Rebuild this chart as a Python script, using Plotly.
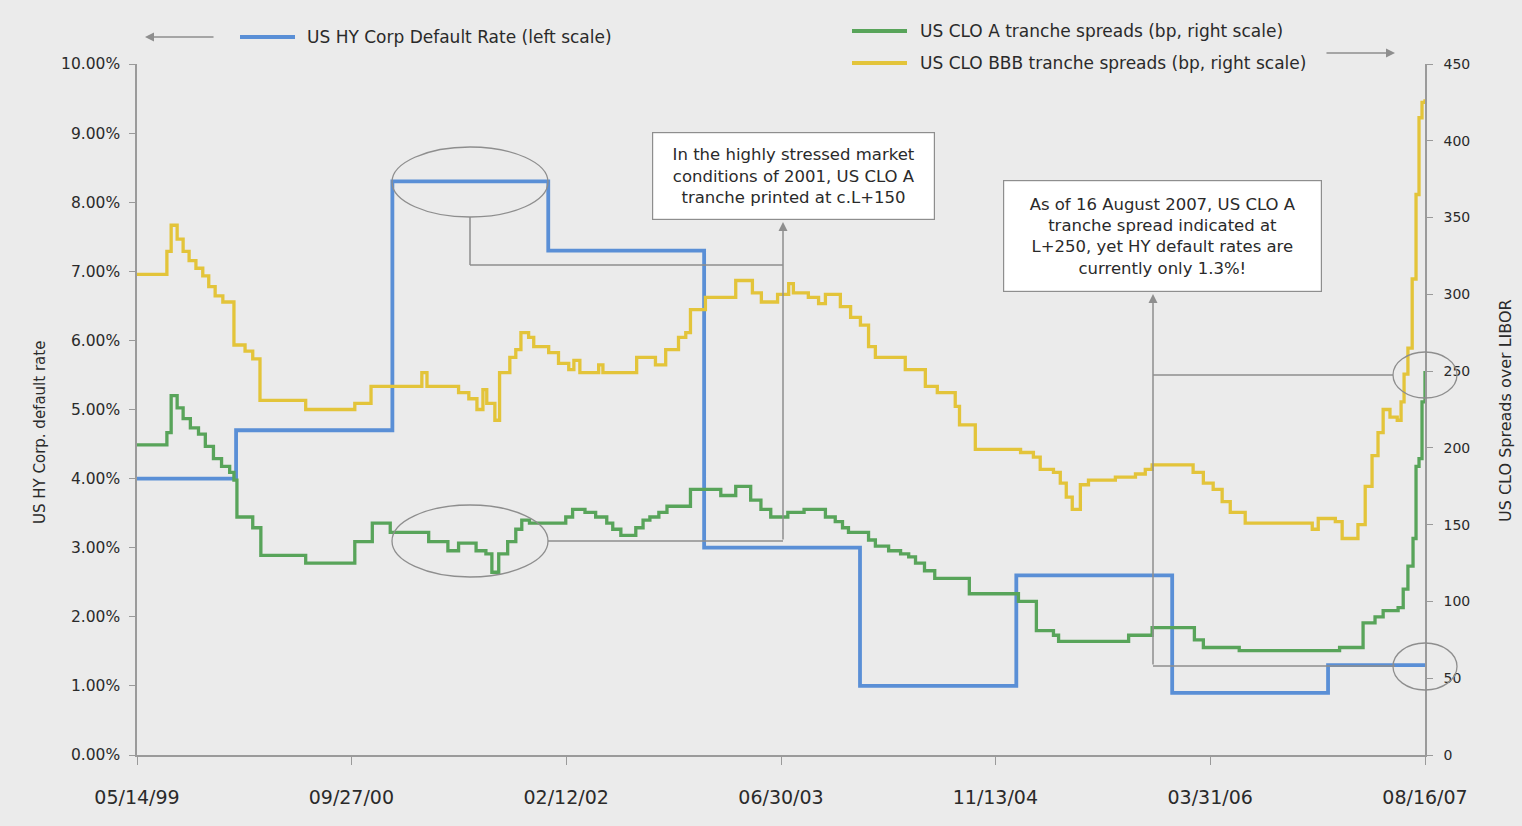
import plotly.graph_objects as go

# ---------------- data ----------------
hy_dates = ["1999-05-14", "2000-01-01", "2001-01-01", "2002-01-01", "2003-01-01",
            "2004-01-01", "2005-01-01", "2006-01-01", "2007-01-01", "2007-08-16"]
hy_rate = [4.0, 4.7, 8.3, 7.3, 3.0, 1.0, 2.6, 0.9, 1.3, 1.3]

bbb_dates = [
    "1999-05-14", "1999-07-23", "1999-08-02", "1999-08-16", "1999-08-30", "1999-09-13",
    "1999-09-29", "1999-10-15", "1999-10-29", "1999-11-13", "1999-12-01", "1999-12-27",
    "2000-01-22", "2000-02-09", "2000-02-26", "2000-06-12", "2000-10-05", "2000-11-12",
    "2001-03-11", "2001-03-23", "2001-06-05", "2001-06-29", "2001-07-18", "2001-08-01",
    "2001-08-10", "2001-08-29", "2001-09-09", "2001-10-03", "2001-10-17", "2001-10-29",
    "2001-11-16", "2001-11-28", "2002-01-02", "2002-01-25", "2002-02-18", "2002-03-02",
    "2002-03-16", "2002-04-29", "2002-05-09", "2002-07-27", "2002-09-09", "2002-10-03",
    "2002-11-02", "2002-11-19", "2002-11-30", "2003-01-04", "2003-03-16", "2003-04-24",
    "2003-05-15", "2003-06-22", "2003-07-18", "2003-07-29", "2003-09-02", "2003-09-26",
    "2003-10-12", "2003-11-16", "2003-12-10", "2004-01-02", "2004-01-21", "2004-02-06",
    "2004-04-16", "2004-06-02", "2004-06-30", "2004-08-11", "2004-08-21", "2004-09-27",
    "2005-01-11", "2005-02-10", "2005-02-26", "2005-03-29", "2005-04-14", "2005-04-28",
    "2005-05-12", "2005-05-31", "2005-06-19", "2005-08-21", "2005-10-07", "2005-10-30",
    "2005-11-15", "2006-02-19", "2006-03-15", "2006-04-07", "2006-04-28", "2006-05-17",
    "2006-06-21", "2006-11-25", "2006-12-09", "2007-01-18", "2007-02-03", "2007-03-12",
    "2007-03-29", "2007-04-14", "2007-04-28", "2007-05-10", "2007-05-26", "2007-06-12",
    "2007-06-21", "2007-06-28", "2007-07-07", "2007-07-17", "2007-07-26", "2007-08-02",
    "2007-08-09", "2007-08-16"]
bbb_bp = [
    313, 328, 345, 336, 328, 322,
    317, 312, 305, 299, 295, 267,
    263, 258, 231, 225, 229, 240,
    249, 240, 236, 232, 225, 238,
    229, 218, 249, 259, 264, 275,
    272, 266, 262, 255, 251, 257,
    249, 254, 249, 259, 254, 264,
    272, 275, 290, 298, 309, 301,
    295, 300, 307, 301, 298, 294,
    300, 292, 285, 280, 266, 259,
    251, 240, 236, 227, 215, 199,
    197, 194, 186, 184, 177, 168,
    160, 176, 179, 181, 183, 186,
    189, 184, 177, 173, 165, 158,
    151, 147, 154, 152, 141, 150,
    175, 195, 210, 225, 220, 218,
    230, 248, 265, 310, 365, 415,
    425, 427]

a_dates = [
    "1999-05-14", "1999-07-23", "1999-08-02", "1999-08-16", "1999-08-30", "1999-09-16",
    "1999-10-05", "1999-10-21", "1999-11-09", "1999-11-28", "1999-12-17", "1999-12-27",
    "2000-01-03", "2000-02-09", "2000-02-28", "2000-06-12", "2000-10-05", "2000-11-15",
    "2000-12-27", "2001-03-27", "2001-05-11", "2001-06-05", "2001-07-16", "2001-08-08",
    "2001-08-22", "2001-09-07", "2001-09-28", "2001-10-17", "2001-10-31", "2001-11-18",
    "2002-02-11", "2002-02-27", "2002-03-28", "2002-04-22", "2002-05-18", "2002-06-01",
    "2002-06-20", "2002-07-25", "2002-08-11", "2002-08-27", "2002-09-17", "2002-10-06",
    "2002-11-30", "2003-02-09", "2003-03-16", "2003-04-20", "2003-05-14", "2003-06-06",
    "2003-07-16", "2003-08-23", "2003-10-12", "2003-11-04", "2003-11-21", "2003-12-05",
    "2004-01-21", "2004-02-06", "2004-03-08", "2004-04-05", "2004-04-24", "2004-05-10",
    "2004-05-31", "2004-06-24", "2004-09-13", "2005-01-06", "2005-02-17", "2005-03-29",
    "2005-04-10", "2005-09-21", "2005-11-15", "2006-02-22", "2006-03-15", "2006-06-07",
    "2007-01-28", "2007-03-24", "2007-04-21", "2007-05-10", "2007-06-14", "2007-06-26",
    "2007-07-07", "2007-07-19", "2007-07-26", "2007-08-02", "2007-08-09", "2007-08-16"]
a_bp = [
    202, 210, 234, 226, 219, 213,
    209, 201, 193, 188, 184, 179,
    155, 148, 130, 125, 139, 151,
    145, 139, 133, 138, 133, 131,
    119, 131, 139, 147, 153, 151,
    155, 160, 158, 155, 151, 147,
    143, 148, 153, 155, 158, 162,
    173, 169, 175, 166, 160, 155,
    158, 160, 155, 152, 148, 145,
    140, 136, 133, 131, 129, 125,
    120, 115, 105, 100, 81, 78,
    74, 78, 83, 75, 70, 68,
    70, 86, 90, 94, 96, 108,
    123, 141, 188, 193, 230, 250]

tick_dates = ["1999-05-14", "2000-09-27", "2002-02-12", "2003-06-30",
              "2004-11-13", "2006-03-31", "2007-08-16"]
tick_labels = ["05/14/99", "09/27/00", "02/12/02", "06/30/03",
               "11/13/04", "03/31/06", "08/16/07"]

# ---------------- styling ----------------
W, H = 1522, 826
L, R, T, B = 137, 1425, 64, 755
BG = "#ebebeb"
GRAY = "#8e8e8e"
TXT = "#2a2a2a"
FONT = "DejaVu Sans"
BLUE, GREEN, YELLOW = "#5a8fd6", "#58a45a", "#e3c43a"


def px(x):
    return (x - L) / (R - L)


def py(y):
    return (B - y) / (B - T)


fig = go.Figure()
fig.add_trace(go.Scatter(x=hy_dates, y=hy_rate, mode="lines", line_shape="hv",
                         line=dict(color=BLUE, width=3.8),
                         name="US HY Corp Default Rate (left scale)"))
fig.add_trace(go.Scatter(x=a_dates, y=a_bp, mode="lines", line_shape="hv", yaxis="y2",
                         line=dict(color=GREEN, width=3.3),
                         name="US CLO A tranche spreads (bp, right scale)"))
fig.add_trace(go.Scatter(x=bbb_dates, y=bbb_bp, mode="lines", line_shape="hv", yaxis="y2",
                         line=dict(color=YELLOW, width=3.3),
                         name="US CLO BBB tranche spreads (bp, right scale)"))

shapes = []
annos = []

# ellipses
for (x0, x1, y0, y1) in [(392, 548, 217, 147), (392, 548, 577, 505),
                         (1393, 1457, 398, 352), (1393, 1457, 690, 643)]:
    shapes.append(dict(type="circle", xref="paper", yref="paper",
                       x0=px(x0), x1=px(x1), y0=py(y0), y1=py(y1),
                       line=dict(color=GRAY, width=1.3)))


# connector lines
def seg(x0, y0, x1, y1):
    shapes.append(dict(type="line", xref="paper", yref="paper",
                       x0=px(x0), y0=py(y0), x1=px(x1), y1=py(y1),
                       line=dict(color=GRAY, width=1.5)))


seg(470, 217, 470, 265)
seg(470, 265, 783, 265)
seg(548, 541, 783, 541)
seg(1153, 375, 1393, 375)
seg(1153, 666, 1395, 666)

# legend lines
for (x0, x1, y, c) in [(240, 295, 37, BLUE), (852, 907, 31, GREEN), (852, 907, 63, YELLOW)]:
    shapes.append(dict(type="line", xref="paper", yref="paper",
                       x0=px(x0), x1=px(x1), y0=py(y), y1=py(y),
                       line=dict(color=c, width=4)))


# arrows
def arrow(hx, hy, tx, ty):
    annos.append(dict(xref="paper", yref="paper", x=px(hx), y=py(hy), text="",
                      showarrow=True, ax=tx - hx, ay=ty - hy, arrowhead=2,
                      arrowsize=1.2, arrowwidth=1.5, arrowcolor=GRAY))


arrow(783, 222, 783, 541)
arrow(1153, 294, 1153, 666)
arrow(145, 37, 215, 37)
arrow(1395, 53, 1325, 53)

# legend texts
leg_font = dict(family=FONT, size=17, color=TXT)
annos.append(dict(xref="paper", yref="paper", x=px(305), y=py(37), xanchor="left",
                  yanchor="middle", showarrow=False, font=leg_font,
                  text="US HY Corp Default Rate (left scale)"))
annos.append(dict(xref="paper", yref="paper", x=px(918), y=py(31), xanchor="left",
                  yanchor="middle", showarrow=False, font=leg_font,
                  text="US CLO A tranche spreads (bp, right scale)"))
annos.append(dict(xref="paper", yref="paper", x=px(918), y=py(63), xanchor="left",
                  yanchor="middle", showarrow=False, font=leg_font,
                  text="US CLO BBB tranche spreads (bp, right scale)"))

# text boxes
box_font = dict(family=FONT, size=16.5, color=TXT)
annos.append(dict(xref="paper", yref="paper", x=px(793.5), y=py(176),
                  xanchor="center", yanchor="middle", showarrow=False,
                  width=275, height=80, borderpad=3, bgcolor="white",
                  bordercolor=GRAY, borderwidth=1.2, font=box_font,
                  text="In the highly stressed market<br>conditions of 2001, US CLO A<br>tranche printed at c.L+150"))
annos.append(dict(xref="paper", yref="paper", x=px(1162.5), y=py(236),
                  xanchor="center", yanchor="middle", showarrow=False,
                  width=311, height=104, borderpad=3, bgcolor="white",
                  bordercolor=GRAY, borderwidth=1.2, font=box_font,
                  text="As of 16 August 2007, US CLO A<br>tranche spread indicated at<br>L+250, yet HY default rates are<br>currently only 1.3%!"))

# axis titles
annos.append(dict(xref="paper", yref="paper", x=px(40), y=py(433), textangle=-90,
                  showarrow=False, xanchor="center", yanchor="middle",
                  font=dict(family=FONT, size=15, color=TXT),
                  text="US HY Corp. default rate"))
annos.append(dict(xref="paper", yref="paper", x=px(1505), y=py(410), textangle=-90,
                  showarrow=False, xanchor="center", yanchor="middle",
                  font=dict(family=FONT, size=16, color=TXT),
                  text="US CLO Spreads over LIBOR"))

fig.update_layout(
    width=W, height=H,
    margin=dict(l=L, r=W - R, t=T, b=H - B),
    paper_bgcolor=BG, plot_bgcolor=BG,
    showlegend=False,
    shapes=shapes, annotations=annos,
    xaxis=dict(type="date", range=["1999-05-14", "2007-08-16"],
               tickvals=tick_dates, ticktext=tick_labels,
               showgrid=False, zeroline=False, showline=True,
               linecolor="#9a9a9a", linewidth=1.5,
               ticks="outside", ticklen=8, tickcolor="#9a9a9a",
               ticklabelstandoff=16,
               tickfont=dict(family=FONT, size=19, color=TXT)),
    yaxis=dict(range=[0, 10], dtick=1, tickformat=".2f", ticksuffix="%",
               showgrid=False, zeroline=False, showline=True,
               linecolor="#9a9a9a", linewidth=1.5,
               ticks="outside", ticklen=6, tickcolor="#9a9a9a",
               ticklabelstandoff=6,
               tickfont=dict(family=FONT, size=15.5, color=TXT)),
    yaxis2=dict(range=[0, 450], dtick=50, overlaying="y", side="right",
                showgrid=False, zeroline=False, showline=True,
                linecolor="#9a9a9a", linewidth=1.5,
                ticks="outside", ticklen=6, tickcolor="#9a9a9a",
                ticklabelstandoff=8,
                tickfont=dict(family=FONT, size=14, color=TXT)),
)

fig.write_html("out.html")
